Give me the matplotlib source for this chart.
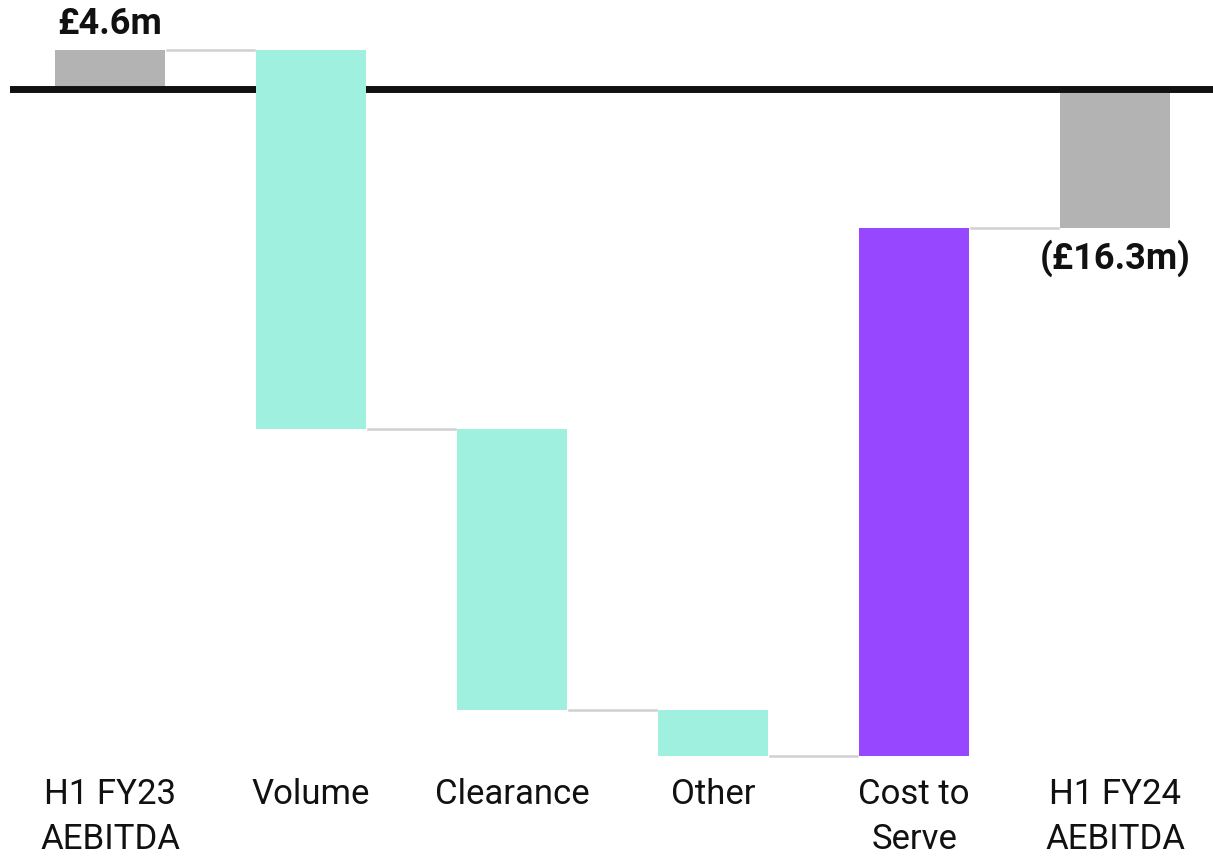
import matplotlib.pyplot as plt
import numpy as np

# waterfall data (£m)
categories = ['H1 FY23\nAEBITDA', 'Volume', 'Clearance', 'Other', 'Cost to\nServe', 'H1 FY24\nAEBITDA']
changes = [4.6, -44.6, -33.1, -5.4, 62.2]
end_total = -16.3
colors = ['#b3b3b3', '#a0f0e0', '#a0f0e0', '#a0f0e0', '#9747ff', '#b3b3b3']

plt.rcParams['font.family'] = ['Roboto', 'DejaVu Sans']

fig = plt.figure(figsize=(12.13, 8.56), dpi=100)
ax = fig.add_axes([10 / 1213, 96 / 856, 1 - 10 / 1213, 760 / 856])

x = np.arange(len(categories))
w = 0.55

# running totals
levels = np.cumsum(changes)
bottoms = [0] + list(levels[:-1])
bottoms.append(0)
heights = list(changes) + [end_total]

for i in range(len(categories)):
    z = 3 if i in (1, 2, 3, 4) else 1
    ax.bar(x[i], heights[i], bottom=bottoms[i], width=w, color=colors[i], zorder=z)

# connectors
conn = list(levels)
for i in range(len(categories) - 1):
    ax.plot([x[i] + w / 2 + 0.01, x[i + 1] - w / 2 - 0.01], [conn[i], conn[i]],
            color='#d0d0d0', lw=1.8, zorder=1)

ax.axhline(0, color='#111111', lw=5, zorder=2)

ax.text(x[0], changes[0] + 0.9, '£4.6m', ha='center', va='bottom',
        fontsize=26, fontweight='bold', color='#111111')
ax.text(x[-1], end_total - 1.4, '(£16.3m)', ha='center', va='top',
        fontsize=26, fontweight='bold', color='#111111')

ax.set_xlim(-0.4975, 5.487)
ax.set_ylim(-78.94, 10.47)
ax.set_xticks(x)
ax.set_xticklabels(categories, fontsize=25, color='#111111', linespacing=1.45)
ax.tick_params(axis='x', length=0, pad=13)
ax.set_yticks([])
for s in ax.spines.values():
    s.set_visible(False)

fig.savefig('out.png', dpi=100, facecolor='white')
